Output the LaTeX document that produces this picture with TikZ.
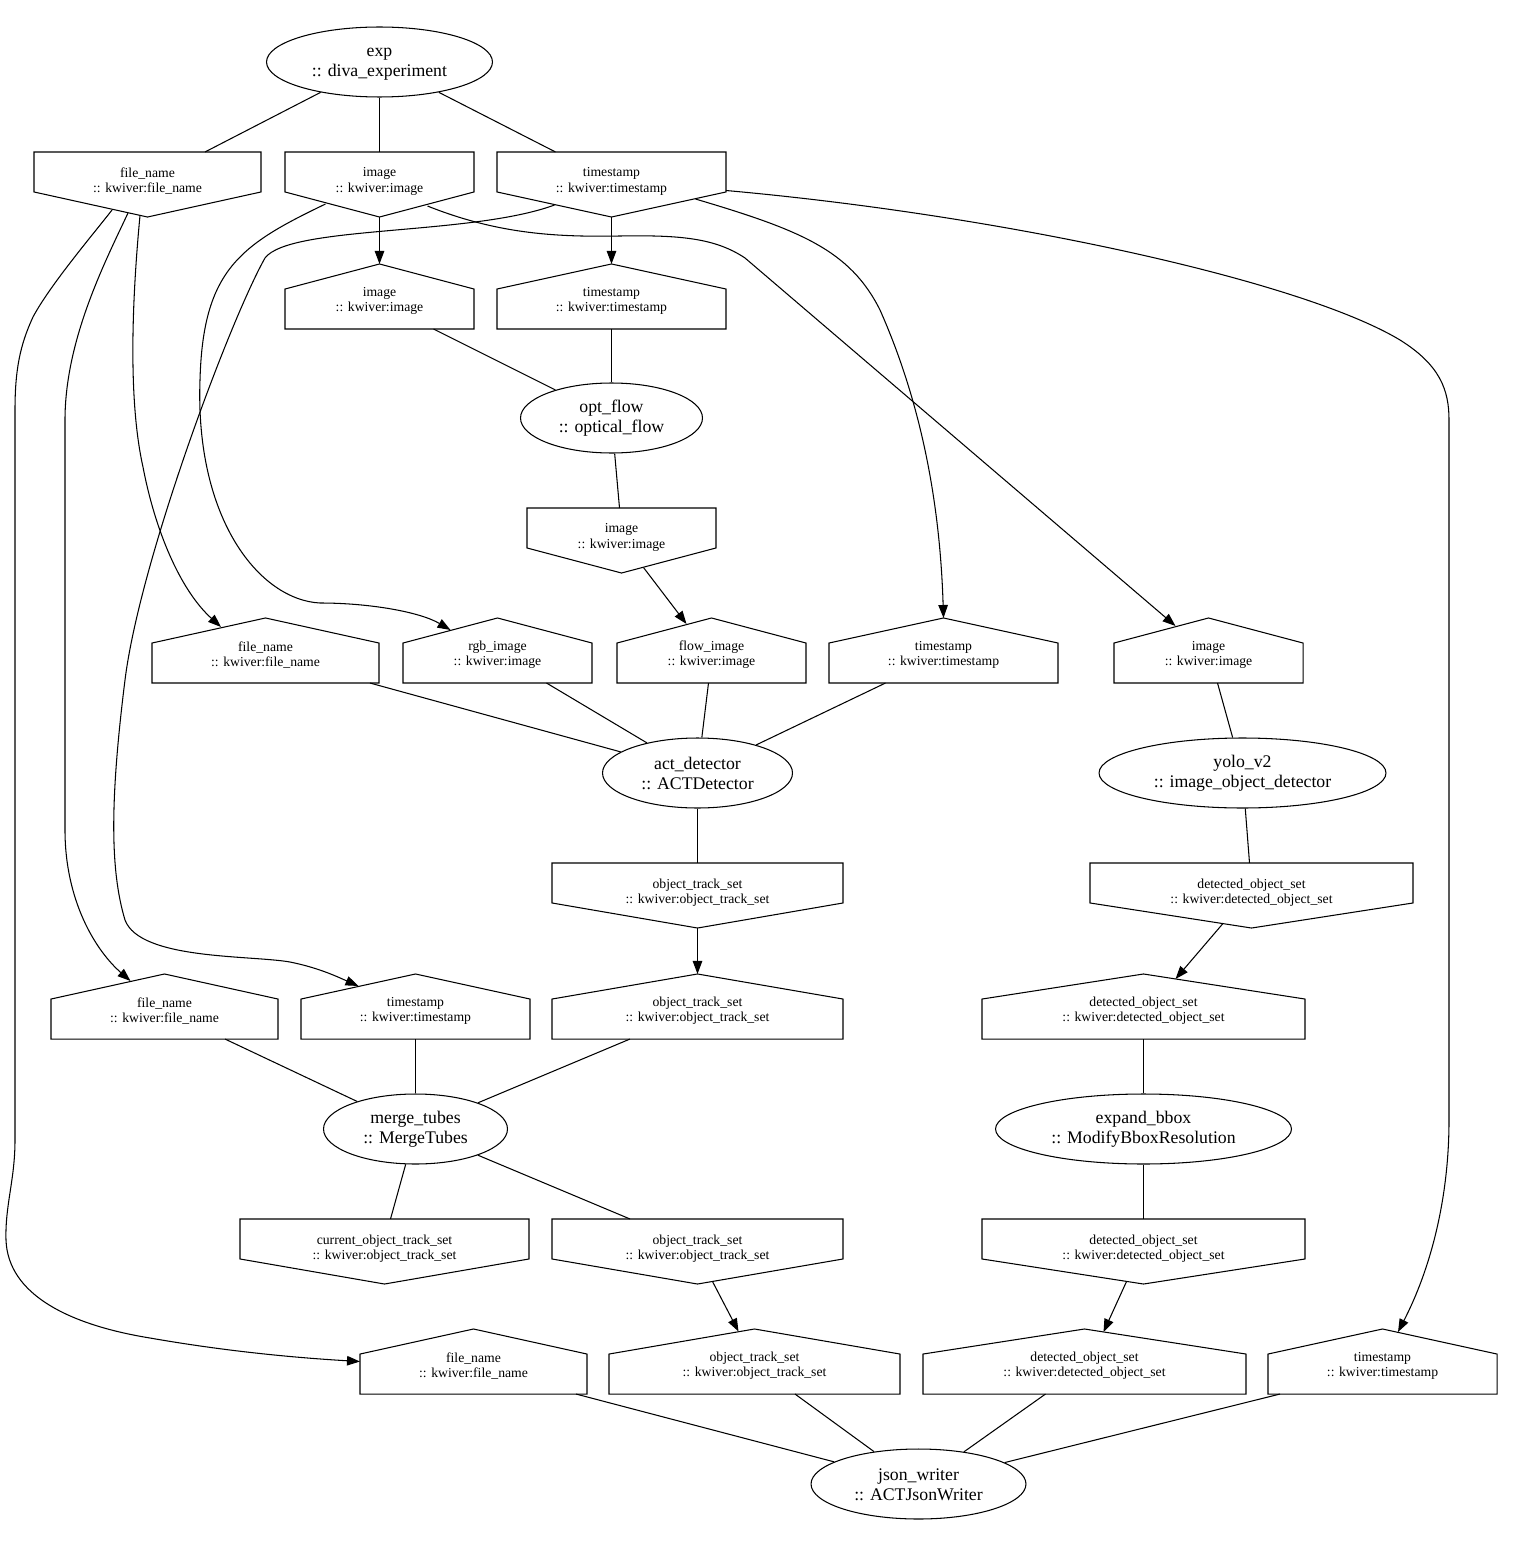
\documentclass[tikz,border=0pt]{standalone}
\usepackage{fontspec}
\setmainfont{Liberation Serif}
\usetikzlibrary{shapes.geometric,arrows.meta,calc}

\begin{document}
\begin{tikzpicture}[x=0.02cm, y=-0.02cm, line width=0.6pt,
    >={Triangle[length=0.26cm,width=0.19cm]},
    proc/.style={draw, ellipse, inner sep=0pt, minimum width=#1, minimum height=1.4cm,
        align=center, font=\fontsize{10.1}{11.4}\selectfont,
        execute at begin node=\rule{0pt}{18.5pt}},
    portbox/.style={rectangle, inner sep=0pt, minimum width=#1, minimum height=1.28cm,
        align=center, font=\fontsize{7.8}{8.8}\selectfont},
    inport/.style={portbox=#1, execute at begin node=\rule{0pt}{19.2pt}},
    outport/.style={portbox=#1, execute at end node=\rule[-5.1pt]{0pt}{5.1pt}}]

    \useasboundingbox (0,0) rectangle (1525,1547);

    \node[proc=4.52cm] (exp) at (379.5,62) {exp\\:: diva\_experiment};
    \node[outport=4.52cm] (expFile) at (147.5,184.5) {file\_name\\:: kwiver:file\_name};
    \node[outport=3.76cm] (expImage) at (379.5,184.5) {image\\:: kwiver:image};
    \node[outport=4.56cm] (expTime) at (611.5,184.5) {timestamp\\:: kwiver:timestamp};

    \node[inport=3.76cm] (flowInImage) at (379.5,296.5) {image\\:: kwiver:image};
    \node[inport=4.56cm] (flowInTime) at (611.5,296.5) {timestamp\\:: kwiver:timestamp};
    \node[proc=3.64cm] (optFlow) at (611.5,418) {opt\_flow\\:: optical\_flow};
    \node[outport=3.76cm] (flowOutImage) at (621.5,540.5) {image\\:: kwiver:image};

    \node[inport=4.52cm] (actInFile) at (265.5,650.5) {file\_name\\:: kwiver:file\_name};
    \node[inport=3.76cm] (actInRgb) at (497.5,650.5) {rgb\_image\\:: kwiver:image};
    \node[inport=3.76cm] (actInFlow) at (711.5,650.5) {flow\_image\\:: kwiver:image};
    \node[inport=4.56cm] (actInTime) at (943.5,650.5) {timestamp\\:: kwiver:timestamp};
    \node[inport=3.76cm] (yoloInImage) at (1208.5,650.5) {image\\:: kwiver:image};

    \node[proc=3.8cm] (actDet) at (697.5,773) {act\_detector\\:: ACTDetector};
    \node[proc=5.74cm] (yolo) at (1242.5,773) {yolo\_v2\\:: image\_object\_detector};

    \node[outport=5.8cm] (actOutTracks) at (697.5,895.5) {object\_track\_set\\:: kwiver:object\_track\_set};
    \node[outport=6.44cm] (yoloOutDets) at (1251.5,895.5) {detected\_object\_set\\:: kwiver:detected\_object\_set};

    \node[inport=4.52cm] (mergeInFile) at (164.5,1006.5) {file\_name\\:: kwiver:file\_name};
    \node[inport=4.56cm] (mergeInTime) at (415.5,1006.5) {timestamp\\:: kwiver:timestamp};
    \node[inport=5.8cm] (mergeInTracks) at (697.5,1006.5) {object\_track\_set\\:: kwiver:object\_track\_set};
    \node[inport=6.44cm] (bboxInDets) at (1143.5,1006.5) {detected\_object\_set\\:: kwiver:detected\_object\_set};

    \node[proc=3.68cm] (merge) at (415.5,1129) {merge\_tubes\\:: MergeTubes};
    \node[proc=5.92cm] (bbox) at (1143.5,1129) {expand\_bbox\\:: ModifyBboxResolution};

    \node[outport=5.76cm] (mergeOutCurrent) at (384.5,1251.5) {current\_object\_track\_set\\:: kwiver:object\_track\_set};
    \node[outport=5.8cm] (mergeOutTracks) at (697.5,1251.5) {object\_track\_set\\:: kwiver:object\_track\_set};
    \node[outport=6.44cm] (bboxOutDets) at (1143.5,1251.5) {detected\_object\_set\\:: kwiver:detected\_object\_set};

    \node[inport=4.52cm] (jsonInFile) at (473.5,1361.5) {file\_name\\:: kwiver:file\_name};
    \node[inport=5.8cm] (jsonInTracks) at (754.5,1361.5) {object\_track\_set\\:: kwiver:object\_track\_set};
    \node[inport=6.44cm] (jsonInDets) at (1084.5,1361.5) {detected\_object\_set\\:: kwiver:detected\_object\_set};
    \node[inport=4.56cm] (jsonInTime) at (1382.5,1361.5) {timestamp\\:: kwiver:timestamp};
    \node[proc=4.3cm] (json) at (918.5,1484) {json\_writer\\:: ACTJsonWriter};

    % output ports point down, input ports point up
    \foreach \p in {expFile,expImage,expTime,flowOutImage,actOutTracks,yoloOutDets,mergeOutCurrent,mergeOutTracks,bboxOutDets}
        \draw (\p.north west) -- (\p.north east) -- ([yshift=-0.8cm]\p.north east) -- (\p.south) -- ([yshift=-0.8cm]\p.north west) -- cycle;
    \foreach \p in {flowInImage,flowInTime,actInFile,actInRgb,actInFlow,actInTime,yoloInImage,mergeInFile,mergeInTime,mergeInTracks,bboxInDets,jsonInFile,jsonInTracks,jsonInDets,jsonInTime}
        \draw (\p.south west) -- (\p.south east) -- ([yshift=0.8cm]\p.south east) -- (\p.north) -- ([yshift=0.8cm]\p.south west) -- cycle;

    \draw (exp) -- ($(expFile.north)+(57.5,0)$);
    \draw (exp) -- (expImage);
    \draw (exp) -- ($(expTime.north)+(-56,0)$);
    \draw ($(flowInImage.south)+(54,0)$) -- (optFlow);
    \draw (flowInTime) -- (optFlow);
    \draw (optFlow) -- ($(flowOutImage.north)+(-2,0)$);
    \draw ($(actInFile.south)+(104.5,0)$) -- (actDet);
    \draw ($(actInRgb.south)+(49,0)$) -- (actDet);
    \draw ($(actInFlow.south)+(-3,0)$) -- (actDet);
    \draw ($(actInTime.south)+(-58,0)$) -- (actDet);
    \draw (actDet) -- (actOutTracks);
    \draw ($(yoloInImage.south)+(9,0)$) -- (yolo);
    \draw (yolo) -- ($(yoloOutDets.north)+(-2,0)$);
    \draw ($(mergeInFile.south)+(60.5,0)$) -- (merge);
    \draw (mergeInTime) -- (merge);
    \draw ($(mergeInTracks.south)+(-67.5,0)$) -- (merge);
    \draw (merge) -- ($(mergeOutCurrent.north)+(6,0)$);
    \draw (merge) -- ($(mergeOutTracks.north)+(-67.5,0)$);
    \draw (bboxInDets) -- (bbox);
    \draw (bbox) -- (bboxOutDets);
    \draw ($(jsonInFile.south)+(102.5,0)$) -- (json);
    \draw ($(jsonInTracks.south)+(40.5,0)$) -- (json);
    \draw ($(jsonInDets.south)+(-39,0)$) -- (json);
    \draw ($(jsonInTime.south)+(-102.5,0)$) -- (json);

    \draw[->] (expImage.south) -- (flowInImage.north);
    \draw[->] (expTime.south) -- (flowInTime.north);
    \draw[->] ($(flowOutImage.south)+(22,-5.5)$) -- ($(actInFlow.north)+(-25,6)$);
    \draw[->] (actOutTracks.south) -- (mergeInTracks.north);
    \draw[->] ($(mergeOutTracks.south)+(15,-2.5)$) -- ($(jsonInTracks.north)+(-16,2.5)$);
    \draw[->] ($(yoloOutDets.south)+(-29,-4)$) -- ($(bboxInDets.north)+(32,5)$);
    \draw[->] ($(bboxOutDets.south)+(-17,-2.5)$) -- ($(jsonInDets.north)+(19,3)$);

    \draw[->] ($(expFile.south)+(-35.5,-7)$) .. controls (95,232) and (50,285) .. (33,317)
        .. controls (20,345) and (15,370) .. (15,410) -- (15,1140)
        .. controls (15,1180) and (5,1205) .. (6,1240)
        .. controls (8,1295) and (70,1325) .. (150,1338)
        .. controls (230,1352) and (300,1358) .. (jsonInFile.west);
    \draw[->] ($(expFile.south)+(-19.5,-4)$) .. controls (105,262) and (65,340) .. (65,420) -- (65,830)
        .. controls (65,900) and (95,950) .. ($(mergeInFile.north)+(-34,7)$);
    \draw[->] ($(expFile.south)+(-7.5,-1.5)$) .. controls (132,300) and (128,400) .. (143,467)
        .. controls (155,530) and (180,590) .. ($(actInFile.north)+(-44.5,9)$);
    \draw[->] ($(expImage.south)+(-54,-13)$) .. controls (240,245) and (203,270) .. (200,380)
        .. controls (195,520) and (260,600) .. (320,603)
        .. controls (370,603) and (420,612) .. ($(actInRgb.north)+(-47,12)$);
    \draw[->] ($(expImage.south)+(48,-11)$) .. controls (500,235) and (560,237) .. (620,236)
        .. controls (680,235) and (715,238) .. (745,258) -- ($(yoloInImage.north)+(-33,8)$);
    \draw[->] ($(expTime.south)+(-57,-12)$) .. controls (470,236) and (290,225) .. (265,258)
        .. controls (230,320) and (140,560) .. (125,680)
        .. controls (110,800) and (110,870) .. (125,920)
        .. controls (140,960) and (250,955) .. (290,962)
        .. controls (320,968) and (340,978) .. ($(mergeInTime.north)+(-57,12)$);
    \draw[->] ($(expTime.south)+(84,-18)$) .. controls (800,230) and (850,250) .. (880,310)
        .. controls (920,400) and (940,500) .. (actInTime.north);
    \draw[->] ($(expTime.east)+(0,6)$) .. controls (1000,215) and (1300,280) .. (1400,340)
        .. controls (1440,365) and (1449,390) .. (1449,420) -- (1449,1120)
        .. controls (1449,1200) and (1430,1270) .. ($(jsonInTime.north)+(15.5,3)$);
\end{tikzpicture}
\end{document}
